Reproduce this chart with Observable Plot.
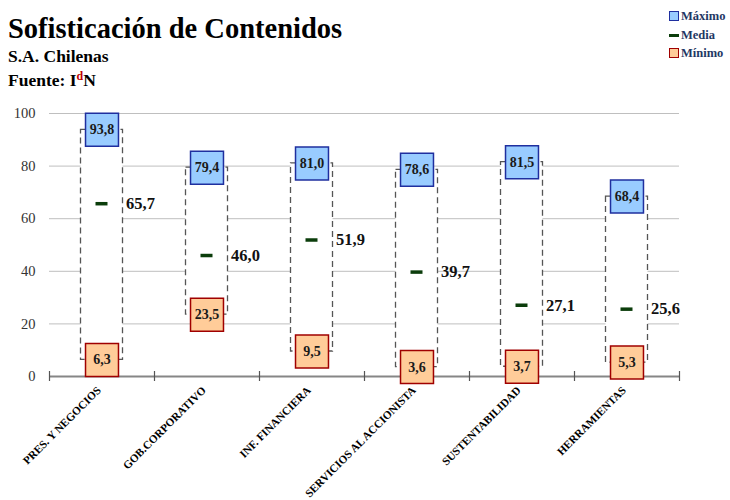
<!DOCTYPE html>
<html>
<head>
<meta charset="utf-8">
<script src="https://cdn.jsdelivr.net/npm/d3@7"></script>
<script src="https://cdn.jsdelivr.net/npm/@observablehq/plot@0.6"></script>
<style>
  body { margin: 0; background: #fff; }
  #wrap { position: relative; width: 730px; height: 500px; font-family: "Liberation Serif", serif; }
  .t { position: absolute; font-weight: bold; color: #000; white-space: nowrap; }
  #title { left: 8px; top: 13px; font-size: 28.5px; }
  #sub { left: 8px; top: 46px; font-size: 17.5px; }
  #src { left: 8px; top: 69px; font-size: 17.5px; }
  #src sup { color: #C00000; font-size: 12px; vertical-align: 6px; }
  .lg { position: absolute; left: 669px; font-size: 12.5px; font-weight: bold; color: #1F3864; display: flex; align-items: center; height: 14px; }
  .sw { width: 8px; height: 8px; margin-right: 2px; border: 1px solid; }
  .dash { width: 10px; height: 3px; background: #0B3D0B; margin-right: 2px; }
</style>
</head>
<body>
<div id="wrap">
  <div id="chart"></div>
  <div class="t" id="title">Sofisticación de Contenidos</div>
  <div class="t" id="sub">S.A. Chilenas</div>
  <div class="t" id="src">Fuente: I<sup>d</sup>N</div>
  <div class="lg" style="top:9px"><span class="sw" style="background:#99CCFF;border-color:#1F2F9F"></span>Máximo</div>
  <div class="lg" style="top:28px"><span class="dash"></span>Media</div>
  <div class="lg" style="top:46px"><span class="sw" style="background:#FFCC99;border-color:#A00000"></span>Mínimo</div>
</div>
<script>
const categories = ["PRES. Y NEGOCIOS", "GOB.CORPORATIVO", "INF. FINANCIERA", "SERVICIOS AL ACCIONISTA", "SUSTENTABILIDAD", "HERRAMIENTAS"];
const maximo = [93.8, 79.4, 81.0, 78.6, 81.5, 68.4];
const media = [65.7, 46.0, 51.9, 39.7, 27.1, 25.6];
const minimo = [6.3, 23.5, 9.5, 3.6, 3.7, 5.3];
const yTicks = [0, 20, 40, 60, 80, 100];

const data = categories.map((c, i) => ({cat: c, max: maximo[i], mean: media[i], min: minimo[i]}));
const fmt = v => v.toFixed(1).replace(".", ",");

const W = 730, H = 500, mL = 49, mR = 51, mT = 113, mB = 124;
const bw = (W - mL - mR) / categories.length;
const font = "Liberation Serif";

const chart = Plot.plot({
  width: W, height: H,
  marginLeft: mL, marginRight: mR, marginTop: mT, marginBottom: mB,
  style: {fontFamily: font, background: "transparent"},
  x: {domain: categories, padding: 0, axis: null},
  y: {domain: [0, 100], axis: null},
  marks: [
    Plot.gridY(yTicks, {stroke: "#BFBFBF", strokeOpacity: 1, strokeWidth: 1}),
    Plot.axisY(yTicks, {tickSize: 0, tickPadding: 14, fontSize: 14.5, fill: "#333", fontFamily: font}),
    Plot.barY(data, {x: "cat", y1: "min", y2: "max", fill: "white", stroke: "#555", strokeWidth: 1.3, strokeDasharray: "6,4", insetLeft: bw/2 - 21, insetRight: bw/2 - 21}),
    Plot.ruleY([0], {stroke: "#868686", strokeWidth: 2}),
    Plot.ruleX(categories, {x: d => d, y1: 0, y2: 0, insetTop: -5, insetBottom: -5, dx: -bw/2, stroke: "#555", strokeWidth: 1.2}),
    Plot.ruleX(categories.slice(-1), {x: d => d, y1: 0, y2: 0, insetTop: -5, insetBottom: -5, dx: bw/2, stroke: "#555", strokeWidth: 1.2}),
    Plot.tickY(data, {x: "cat", y: "mean", stroke: "#0B3D0B", strokeWidth: 3.5, inset: bw/2 - 6}),
    Plot.text(data, {x: "cat", y: "mean", text: d => fmt(d.mean), dx: 24, textAnchor: "start", fontSize: 16.5, fontWeight: "bold", fill: "#111"}),
    Plot.dot(data, {x: "cat", y: "max", symbol: "square", r: 18.6, fill: "#99CCFF", stroke: "#1F2F9F", strokeWidth: 1.5}),
    Plot.text(data, {x: "cat", y: "max", text: d => fmt(d.max), fontSize: 14, fontWeight: "bold", fill: "#1a1a1a"}),
    Plot.dot(data, {x: "cat", y: "min", symbol: "square", r: 18.6, fill: "#FFCC99", stroke: "#A00000", strokeWidth: 1.5}),
    Plot.text(data, {x: "cat", y: "min", text: d => fmt(d.min), fontSize: 14, fontWeight: "bold", fill: "#1a1a1a"}),
    Plot.text(categories, {x: d => d, y: 0, text: d => d, rotate: -45, textAnchor: "end", dy: 12, dx: -3, fontSize: 11.2, fontWeight: "bold", fill: "#000"})
  ]
});
document.getElementById("chart").appendChild(chart);
</script>
</body>
</html>
